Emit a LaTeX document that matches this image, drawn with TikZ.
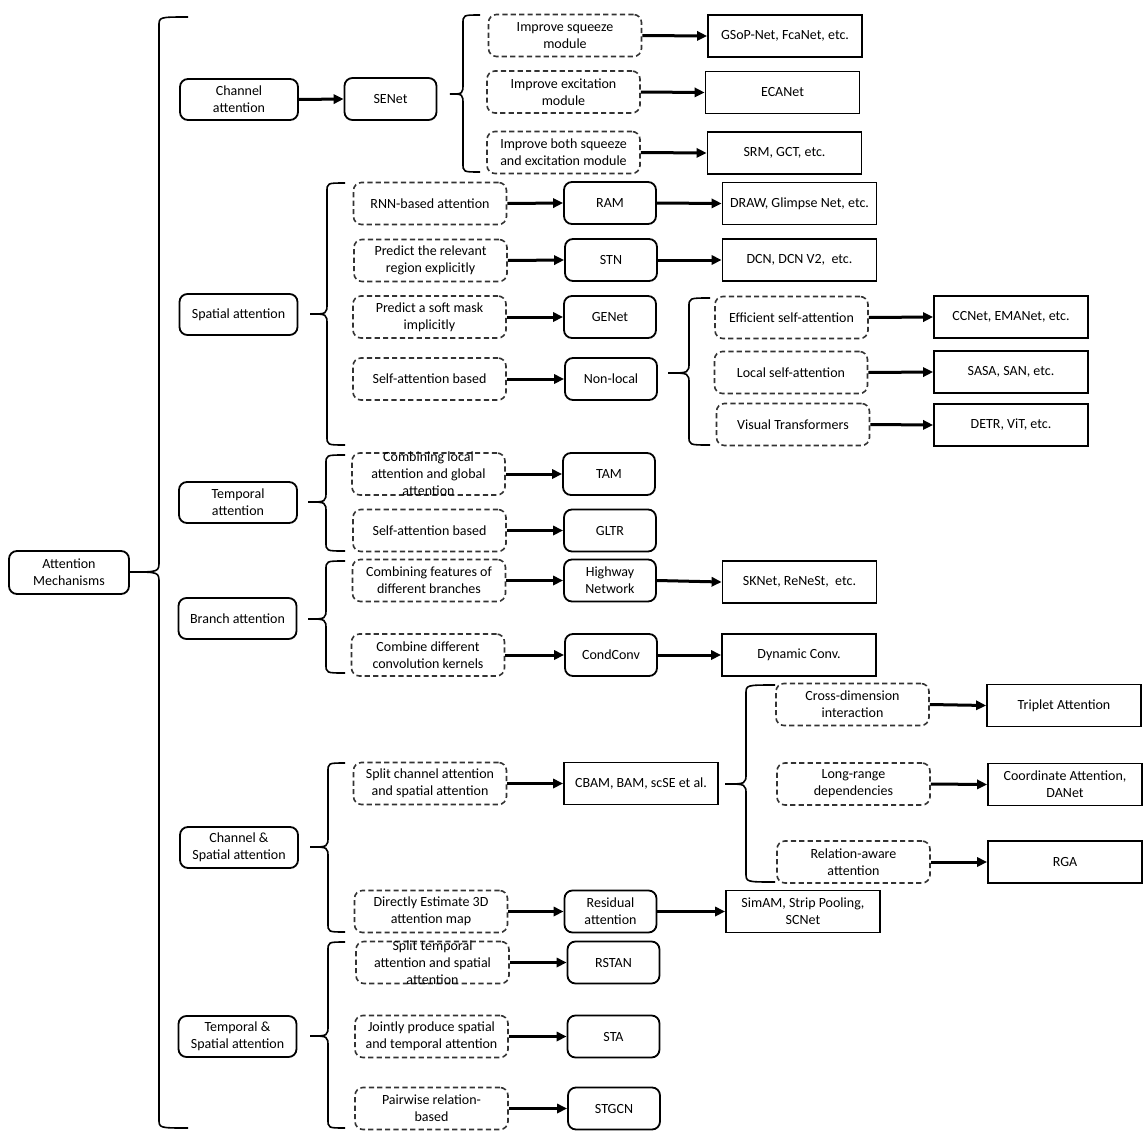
\documentclass[tikz,border=0pt]{standalone}
\usepackage{fontspec}
\setmainfont{Carlito}
\usetikzlibrary{arrows.meta}

\begin{document}
\begin{tikzpicture}[
x=0.5pt, y=-0.5pt,
font=\fontsize{7}{8.5}\selectfont,
root/.style={draw, line width=0.9pt, rounded corners=4pt, align=center, minimum width=60pt, minimum height=21.5pt, inner sep=1pt},
category/.style={draw, line width=0.9pt, rounded corners=4pt, align=center, minimum width=59pt, minimum height=20.5pt, inner sep=1pt},
idea/.style={draw=black!80, line width=0.8pt, dash pattern=on 2.6pt off 1.6pt, rounded corners=4pt, align=center, minimum width=76.5pt, minimum height=21pt, inner sep=1pt},
overflow/.style={inner ysep=-1.5pt},
model/.style={draw, line width=0.9pt, rounded corners=4pt, align=center, minimum width=46pt, minimum height=21pt, inner sep=1pt},
result/.style={draw, line width=0.9pt, align=center, minimum width=77pt, minimum height=21pt, inner sep=1pt},
arrow/.style={-{Triangle[length=5pt,width=4.6pt]}, line width=1.5pt},
curly/.style={line width=0.8pt}
]
\useasboundingbox (0,0) rectangle (1147,1146);

\node[root] (am) at (69,572.5) {Attention\\Mechanisms};

\node[category] (ca) at (239,99.5) {Channel\\attention};
\node[category] (sa) at (238.5,314.5) {Spatial attention};
\node[category] (ta) at (238,502.5) {Temporal\\attention};
\node[category] (ba) at (237.5,618.5) {Branch attention};
\node[category] (csa) at (239,847.5) {Channel \&\\Spatial attention};
\node[category] (tsa) at (237.5,1036.5) {Temporal \&\\Spatial attention};

% channel attention
\node[model] (senet) at (390.5,99) {SENet};
\node[idea] (sq) at (565,35.5) {Improve squeeze\\module};
\node[idea] (ex) at (563.5,92) {Improve excitation\\module};
\node[idea] (sqex) at (563.5,152.5) {Improve both squeeze\\and excitation module};
\node[result] (gsop) at (785,36) {GSoP-Net, FcaNet, etc.};
\node[result] (eca) at (782.5,92.5) {ECANet};
\node[result] (srm) at (784.5,153) {SRM, GCT, etc.};

% spatial attention
\node[idea] (rnn) at (430,203.5) {RNN-based attention};
\node[idea] (explicit) at (430.5,260.5) {Predict the relevant\\region explicitly};
\node[idea] (implicit) at (429.5,317) {Predict a soft mask\\implicitly};
\node[idea] (selfsp) at (429.5,379) {Self-attention based};
\node[model] (ram) at (610,203) {RAM};
\node[model] (stn) at (611,260) {STN};
\node[model] (genet) at (610,317) {GENet};
\node[model] (nonlocal) at (611,379) {Non-local};
\node[result] (drawnet) at (799.5,203.5) {DRAW, Glimpse Net, etc.};
\node[result] (dcn) at (799.5,260) {DCN, DCN V2,\ \ etc.};
\node[idea] (effsa) at (791.5,317.5) {Efficient self-attention};
\node[idea] (localsa) at (791,372.5) {Local self-attention};
\node[idea] (vit) at (793,424.5) {Visual Transformers};
\node[result] (ccnet) at (1011,317) {CCNet, EMANet, etc.};
\node[result] (sasa) at (1011,372) {SASA, SAN, etc.};
\node[result] (detr) at (1011,425) {DETR, ViT, etc.};

% temporal attention
\node[idea, overflow] (localglobal) at (428.5,474) {Combining local\\attention and global\\attention};
\node[idea] (selftemp) at (429.5,530.5) {Self-attention based};
\node[model] (tam) at (609,474) {TAM};
\node[model] (gltr) at (610,530.5) {GLTR};

% branch attention
\node[idea] (branches) at (429,580.5) {Combining features of\\different branches};
\node[idea] (kernels) at (428,655) {Combine different\\convolution kernels};
\node[model] (highway) at (610,580.5) {Highway\\Network};
\node[model] (condconv) at (611,655) {CondConv};
\node[result] (sknet) at (799.5,582) {SKNet, ReNeSt,\ \ etc.};
\node[result] (dynconv) at (799,655) {Dynamic Conv.};

% channel & spatial attention
\node[idea] (splitcs) at (430,783.5) {Split channel attention\\and spatial attention};
\node[idea] (direct3d) at (431,911.5) {Directly Estimate 3D\\attention map};
\node[result] (cbam) at (641,783.5) {CBAM, BAM, scSE et al.};
\node[model] (residual) at (610.5,911.5) {Residual\\attention};
\node[result] (simam) at (803,911.5) {SimAM, Strip Pooling,\\SCNet};
\node[idea] (crossdim) at (852.5,704.5) {Cross-dimension\\interaction};
\node[idea] (longrange) at (853.5,784) {Long-range\\dependencies};
\node[idea] (relation) at (853.5,862) {Relation-aware\\attention};
\node[result] (triplet) at (1064,705.5) {Triplet Attention};
\node[result] (coord) at (1065,784.5) {Coordinate Attention,\\DANet};
\node[result] (rga) at (1065,862) {RGA};

% temporal & spatial attention
\node[idea, overflow] (splitts) at (432.5,962.5) {Split temporal\\attention and spatial\\attention};
\node[idea] (jointly) at (431.5,1036.5) {Jointly produce spatial\\and temporal attention};
\node[idea] (pairwise) at (431.5,1108.5) {Pairwise relation-\\based};
\node[model] (rstan) at (613.5,962.5) {RSTAN};
\node[model] (sta) at (613.5,1036.5) {STA};
\node[model] (stgcn) at (614,1108.5) {STGCN};

% braces: end x / spine x / tip x / top / bottom / middle
\foreach \e/\v/\t/\ya/\yb/\ym in {188/159/130/17/1128/572, 480/463/450/15/172/94,
  345/327/310/183/445/314, 710/689/668/298/445/373, 345/326/308/455/551/502,
  345/326/308/561/673/619, 345/328/310/763/932/847, 775/746/725/685/882/784,
  345/328/310/942/1128/1036}
  \draw[curly] (\e,\ya) .. controls (\v,\ya) .. (\v,\ya+9) -- (\v,\ym-11)
    .. controls (\v,\ym) .. (\t,\ym) .. controls (\v,\ym) .. (\v,\ym+11)
    -- (\v,\yb-9) .. controls (\v,\yb) .. (\e,\yb);

% arrows
\draw[arrow] (ca.east) -- (senet.west);
\draw[arrow] (sq.east) -- (gsop.west);
\draw[arrow] (ex.east) -- (eca.west);
\draw[arrow] (sqex.east) -- (srm.west);
\draw[arrow] (rnn.east) -- (ram.west);
\draw[arrow] (ram.east) -- (drawnet.west);
\draw[arrow] (explicit.east) -- (stn.west);
\draw[arrow] (stn.east) -- (dcn.west);
\draw[arrow] (implicit.east) -- (genet.west);
\draw[arrow] (selfsp.east) -- (nonlocal.west);
\draw[arrow] (effsa.east) -- (ccnet.west);
\draw[arrow] (localsa.east) -- (sasa.west);
\draw[arrow] (vit.east) -- (detr.west);
\draw[arrow] (localglobal.east) -- (tam.west);
\draw[arrow] (selftemp.east) -- (gltr.west);
\draw[arrow] (branches.east) -- (highway.west);
\draw[arrow] (highway.east) -- (sknet.west);
\draw[arrow] (kernels.east) -- (condconv.west);
\draw[arrow] (condconv.east) -- (dynconv.west);
\draw[arrow] (splitcs.east) -- (cbam.west);
\draw[arrow] (direct3d.east) -- (residual.west);
\draw[arrow] (residual.east) -- (simam.west);
\draw[arrow] (crossdim.east) -- (triplet.west);
\draw[arrow] (longrange.east) -- (coord.west);
\draw[arrow] (relation.east) -- (rga.west);
\draw[arrow] (splitts.east) -- (rstan.west);
\draw[arrow] (jointly.east) -- (sta.west);
\draw[arrow] (pairwise.east) -- (stgcn.west);
\end{tikzpicture}
\end{document}
